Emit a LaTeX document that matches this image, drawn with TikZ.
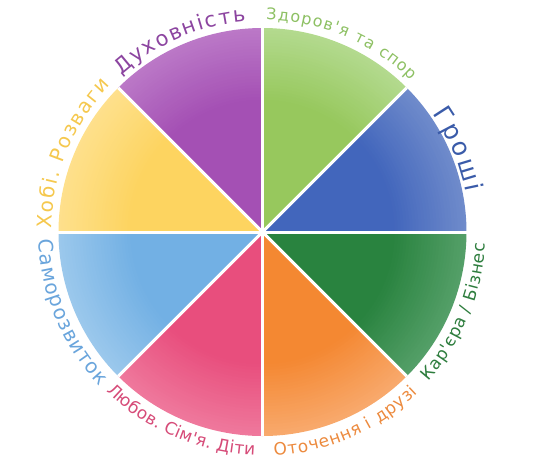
\documentclass[tikz,border=0pt]{standalone}
\usepackage{fontspec}
\usetikzlibrary{decorations.text}
\newfontfamily\df{DejaVu Sans}
\definecolor{gI}{HTML}{97C85D}\definecolor{gO}{HTML}{B3DA8E}
\definecolor{bI}{HTML}{4266BC}\definecolor{bO}{HTML}{6F8BCB}
\definecolor{dI}{HTML}{29833F}\definecolor{dO}{HTML}{549F68}
\definecolor{oI}{HTML}{F48832}\definecolor{oO}{HTML}{F8A96C}
\definecolor{pI}{HTML}{E84E7D}\definecolor{pO}{HTML}{EF789C}
\definecolor{lI}{HTML}{72B0E4}\definecolor{lO}{HTML}{9BC8EC}
\definecolor{yI}{HTML}{FDD460}\definecolor{yO}{HTML}{FEE08C}
\definecolor{vI}{HTML}{A450B4}\definecolor{vO}{HTML}{BB78C7}
\definecolor{gT}{HTML}{8DC063}
\definecolor{vT}{HTML}{8C45A0}
\definecolor{bT}{HTML}{3A5BA9}
\definecolor{dT}{HTML}{2E7D3E}
\definecolor{oT}{HTML}{EC8A3E}
\definecolor{pT}{HTML}{D64B78}
\definecolor{lT}{HTML}{6AA5DC}
\definecolor{yT}{HTML}{F5C84E}
\newcommand\wheelsector[4]{%
  \foreach \i in {0,...,24}{%
    \pgfmathsetmacro\rr{204-\i*3}%
    \pgfmathsetmacro\pc{min(100,\i*4.2)}%
    \fill[#3!\pc!#4] (0,0) -- (#1:\rr) arc[start angle=#1,end angle=#2,radius=\rr] -- cycle;
  }}
\newcommand\arclabel[6]{%
  \path[decorate,decoration={text along path,text color=#5,text align=fit to path,
    text={|\df\fontsize{#4}{#4}\selectfont|#6}}]
    (#1:#3) arc[start angle=#1,end angle=#2,radius=#3];}
\begin{document}
\begin{tikzpicture}[x=1pt,y=1pt,sep/.style={white,line width=3pt}]
\useasboundingbox (-262.5,-235) rectangle (271.5,232);
\wheelsector{90}{45}{gI}{gO}
\wheelsector{45}{0}{bI}{bO}
\wheelsector{0}{-45}{dI}{dO}
\wheelsector{-45}{-90}{oI}{oO}
\wheelsector{-90}{-135}{pI}{pO}
\wheelsector{-135}{-180}{lI}{lO}
\wheelsector{180}{135}{yI}{yO}
\wheelsector{135}{90}{vI}{vO}
\coordinate (c) at (0,0);
\foreach \a in {0,45,...,315}{\draw[sep] (c) -- (\a:204);}
\arclabel{89}{45.5}{212}{16}{gT}{Здоров'я та спор}
\arclabel{132}{94.5}{211}{21}{vT}{Духовність}
\arclabel{35}{11}{207}{25}{bT}{Гроші}
\arclabel{-42}{-3}{223}{17}{dT}{Кар'єра / Бізнес}
\arclabel{-87}{-46}{224}{17}{oT}{Оточення і друзі}
\arclabel{-134.5}{-92}{223}{17}{pT}{Любов. Сім'я. Діти}
\arclabel{-178}{-136.5}{224}{20}{lT}{Саморозвиток}
\arclabel{179}{136}{211}{20}{yT}{Хобі. Розваги}
\end{tikzpicture}
\end{document}
